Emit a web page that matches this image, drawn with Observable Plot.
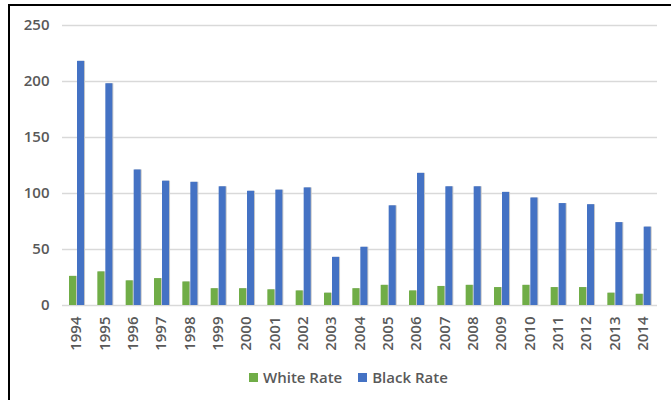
<!DOCTYPE html>
<html>
<head>
<meta charset="utf-8">
<script src="https://cdn.jsdelivr.net/npm/d3@7"></script>
<script src="https://cdn.jsdelivr.net/npm/@observablehq/plot@0.6"></script>
<style>
  html, body { margin: 0; padding: 0; background: #fff; }
  #wrap { position: relative; width: 671px; height: 400px; overflow: hidden; background: #fff; }
  #edge { position: absolute; left: 8px; top: 4px; width: 800px; height: 500px;
          border-top: 2px solid #000; border-left: 2px solid #000; }
  #chart { position: absolute; left: 0; top: 0; }
  #chart svg text { font-weight: 600; }
  #legend { position: absolute; left: 249px; top: 367px; display: flex; align-items: center;
            font-family: "Open Sans", sans-serif; font-weight: 600; font-size: 15px; color: #595959; }
  #legend .item { display: flex; align-items: center; margin-right: 16px; }
  #legend .sw { width: 9px; height: 9px; margin-right: 5px; }
</style>
</head>
<body>
<div id="wrap">
  <div id="edge"></div>
  <div id="chart"></div>
  <div id="legend"></div>
</div>
<script>
// Annual rates by year
const years = [1994, 1995, 1996, 1997, 1998, 1999, 2000, 2001, 2002, 2003, 2004,
               2005, 2006, 2007, 2008, 2009, 2010, 2011, 2012, 2013, 2014];
const whiteRate = [26, 30, 22, 24, 21, 15, 15, 14, 13, 11, 15,
                   18, 13, 17, 18, 16, 18, 16, 16, 11, 10];
const blackRate = [218, 198, 121, 111, 110, 106, 102, 103, 105, 43, 52,
                   89, 118, 106, 106, 101, 96, 91, 90, 74, 70];
const seriesNames = ["White Rate", "Black Rate"];
const seriesColors = ["#70AD47", "#4472C4"];
const yTicks = [0, 50, 100, 150, 200, 250];

const white = years.map((y, i) => ({year: String(y), value: whiteRate[i]}));
const black = years.map((y, i) => ({year: String(y), value: blackRate[i]}));

const plot = Plot.plot({
  width: 671,
  height: 360,
  marginTop: 25,
  marginBottom: 55,
  marginLeft: 62,
  marginRight: 14,
  style: {fontFamily: "'Open Sans', sans-serif", fontSize: "15px", color: "#595959", background: "transparent"},
  x: {type: "band", domain: years.map(String), padding: 0, round: false},
  y: {domain: [0, 250]},
  marks: [
    Plot.gridY(yTicks, {stroke: "#d9d9d9", strokeOpacity: 1, strokeWidth: 1.5}),
    Plot.axisY(yTicks, {tickSize: 0, tickPadding: 13, label: null, fill: "#595959"}),
    Plot.axisX({tickSize: 0, tickPadding: 11, tickRotate: -90, label: null, fill: "#595959"}),
    // soft edge along the right side of each bar
    Plot.barY(white, {x: "year", y: "value", insetLeft: 8, insetRight: 13.3, fill: "#c8c8c8"}),
    Plot.barY(black, {x: "year", y: "value", insetLeft: 16, insetRight: 5.3, fill: "#c8c8c8"}),
    Plot.barY(white, {x: "year", y: "value", insetLeft: 7, insetRight: 14.3, fill: seriesColors[0]}),
    Plot.barY(black, {x: "year", y: "value", insetLeft: 15, insetRight: 6.3, fill: seriesColors[1]})
  ]
});
document.getElementById("chart").appendChild(plot);

const legend = document.getElementById("legend");
seriesNames.forEach((name, i) => {
  const item = document.createElement("div");
  item.className = "item";
  const sw = document.createElement("span");
  sw.className = "sw";
  sw.style.background = seriesColors[i];
  const label = document.createElement("span");
  label.textContent = name;
  item.appendChild(sw);
  item.appendChild(label);
  legend.appendChild(item);
});
</script>
</body>
</html>
